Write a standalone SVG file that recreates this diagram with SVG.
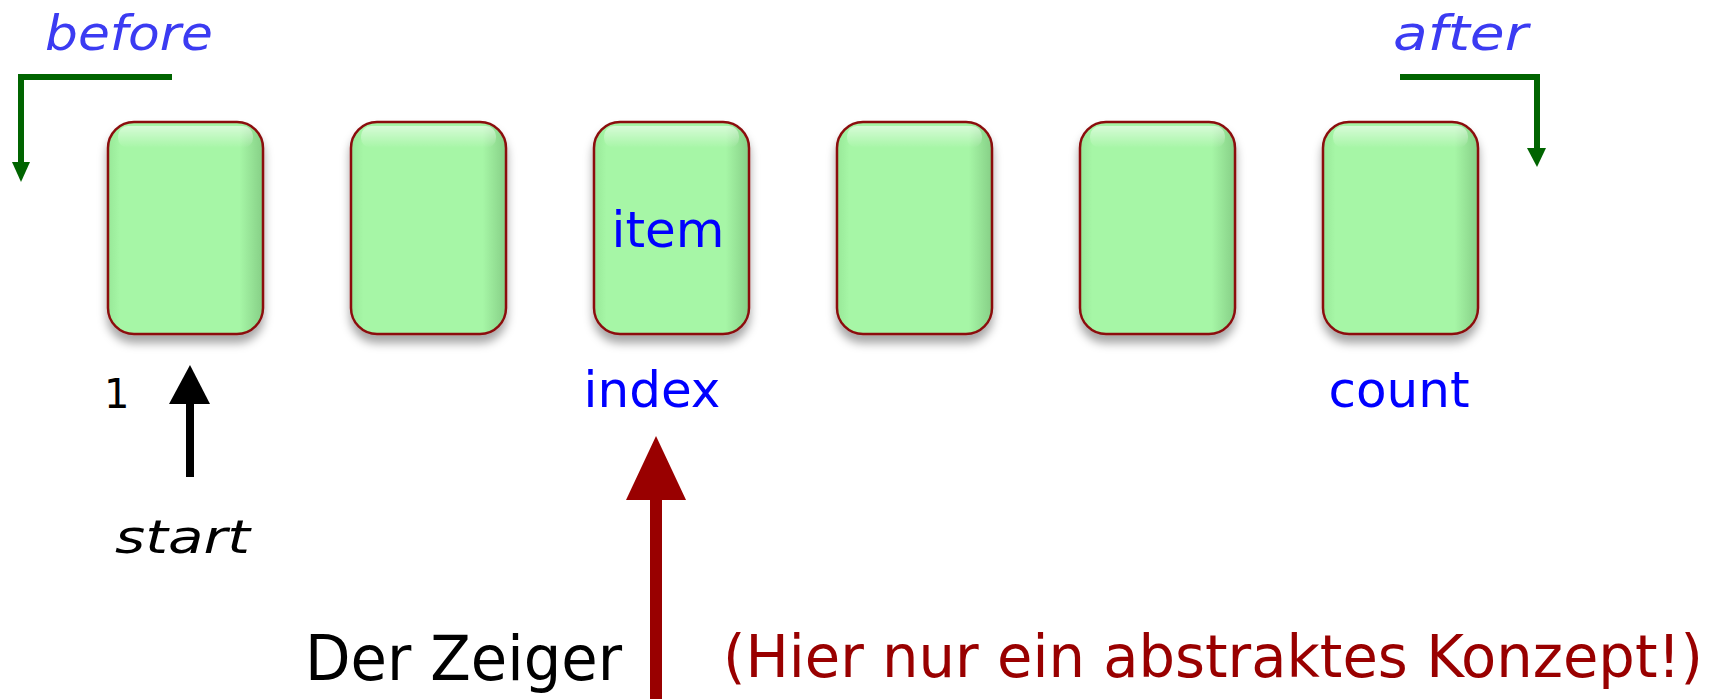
<svg xmlns="http://www.w3.org/2000/svg" width="1717" height="699" viewBox="0 0 1717 699">
<style>
  .box { fill: url(#boxfill); stroke: #8b1010; stroke-width: 2.5; filter: url(#shadow); }
  .hl { fill: url(#hlfill); }
  .blue { font-family: "DejaVu Sans", sans-serif; fill: #0000ff; text-anchor: middle; }
  .lblue { font-family: "DejaVu Sans", sans-serif; font-style: italic; fill: #3b3bf2; font-size: 48px; }
  .blk { font-family: "DejaVu Sans", sans-serif; fill: #000; }
  .grn { fill: none; stroke: #006400; stroke-width: 6; }
</style>
<defs>
  <linearGradient id="boxfill" x1="0" y1="0" x2="1" y2="0">
    <stop offset="0" stop-color="#98e898"/>
    <stop offset="0.08" stop-color="#a6f6a6"/>
    <stop offset="0.85" stop-color="#a6f6a6"/>
    <stop offset="1" stop-color="#86cf86"/>
  </linearGradient>
  <linearGradient id="hlfill" x1="0" y1="0" x2="0" y2="1">
    <stop offset="0" stop-color="#ffffff" stop-opacity="0.55"/>
    <stop offset="1" stop-color="#ffffff" stop-opacity="0"/>
  </linearGradient>
  <filter id="shadow" x="-20%" y="-20%" width="140%" height="140%">
    <feDropShadow dx="0" dy="8" stdDeviation="5" flood-color="#000" flood-opacity="0.35"/>
  </filter>
</defs>

<g id="node-1">
  <rect class="box" x="108" y="122" width="155" height="212" rx="26"/>
  <rect class="hl" x="118" y="126" width="135" height="22" rx="10"/>
</g>
<g id="node-2">
  <rect class="box" x="351" y="122" width="155" height="212" rx="26"/>
  <rect class="hl" x="361" y="126" width="135" height="22" rx="10"/>
</g>
<g id="node-3">
  <rect class="box" x="594" y="122" width="155" height="212" rx="26"/>
  <rect class="hl" x="604" y="126" width="135" height="22" rx="10"/>
  <text class="blue" x="668" y="247" font-size="50">item</text>
</g>
<g id="node-4">
  <rect class="box" x="837" y="122" width="155" height="212" rx="26"/>
  <rect class="hl" x="847" y="126" width="135" height="22" rx="10"/>
</g>
<g id="node-5">
  <rect class="box" x="1080" y="122" width="155" height="212" rx="26"/>
  <rect class="hl" x="1090" y="126" width="135" height="22" rx="10"/>
</g>
<g id="node-6">
  <rect class="box" x="1323" y="122" width="155" height="212" rx="26"/>
  <rect class="hl" x="1333" y="126" width="135" height="22" rx="10"/>
</g>

<g id="labels">
  <text class="lblue" x="45" y="50" textLength="168" lengthAdjust="spacingAndGlyphs">before</text>
  <text class="lblue" x="1393" y="50" textLength="135" lengthAdjust="spacingAndGlyphs">after</text>
  <text class="blue" x="652" y="407" font-size="50">index</text>
  <text class="blue" x="1399" y="407" font-size="50">count</text>
  <text class="blk" x="104" y="408" font-size="40">1</text>
  <text class="blk" x="115" y="553" font-size="46" font-style="italic" textLength="135" lengthAdjust="spacingAndGlyphs">start</text>
  <text class="blk" x="305" y="680" font-size="62" textLength="317" lengthAdjust="spacingAndGlyphs">Der Zeiger</text>
  <text x="723" y="677" font-family="DejaVu Sans, sans-serif" font-size="58" fill="#990000" textLength="980" lengthAdjust="spacingAndGlyphs">(Hier nur ein abstraktes Konzept!)</text>
</g>

<g id="connectors">
  <path class="grn" d="M172,77 H21 V164"/>
  <path d="M12,162 L30,162 L21,182 Z" fill="#006400"/>
  <path class="grn" d="M1400,77 H1537 V150"/>
  <path d="M1527,148 L1546,148 L1537,167 Z" fill="#006400"/>
  <line x1="190" y1="477" x2="190" y2="398" stroke="#000" stroke-width="8"/>
  <path d="M169,404 L190,365 L210,404 Z" fill="#000"/>
  <line x1="656" y1="699" x2="656" y2="495" stroke="#990000" stroke-width="12"/>
  <path d="M626,500 L656,436 L686,500 Z" fill="#990000"/>
</g>
</svg>
